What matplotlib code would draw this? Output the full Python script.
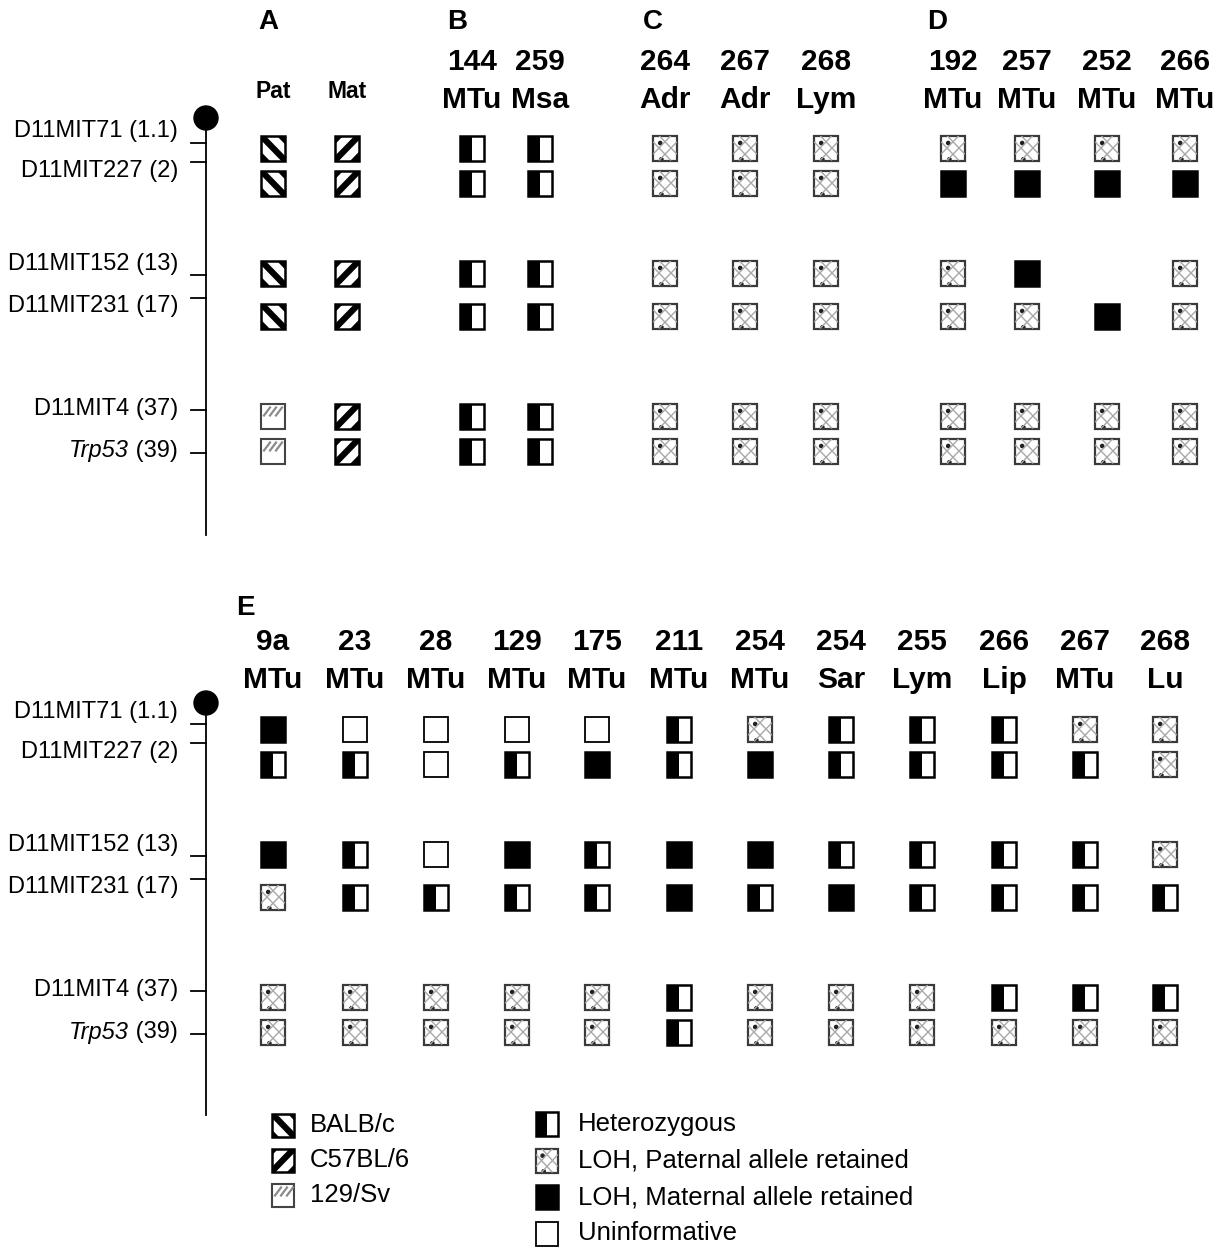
import matplotlib
matplotlib.use("Agg")
import matplotlib.pyplot as plt
from matplotlib.patches import Rectangle, Circle
from matplotlib.lines import Line2D

plt.rcParams['font.family'] = ['Liberation Sans', 'DejaVu Sans']

# ---------------- data ----------------
markers = ["D11MIT71", "D11MIT227", "D11MIT152", "D11MIT231", "D11MIT4", "Trp53"]
marker_cm = ["1.1", "2", "13", "17", "37", "39"]
marker_italic = [False, False, False, False, False, True]

# Genotype codes: B=BALB/c, C=C57BL/6, S=129/Sv, H=heterozygous,
# P=LOH paternal retained, M=LOH maternal retained, U=uninformative, ''=no data
panelA_labels = ["Pat", "Mat"]
panelA_geno = [["B", "B", "B", "B", "S", "S"],
               ["C", "C", "C", "C", "C", "C"]]

panelB_ids = ["144", "259"]
panelB_types = ["MTu", "Msa"]
panelB_geno = [["H"] * 6, ["H"] * 6]

panelC_ids = ["264", "267", "268"]
panelC_types = ["Adr", "Adr", "Lym"]
panelC_geno = [["P"] * 6, ["P"] * 6, ["P"] * 6]

panelD_ids = ["192", "257", "252", "266"]
panelD_types = ["MTu", "MTu", "MTu", "MTu"]
panelD_geno = [["P", "M", "P", "P", "P", "P"],
               ["P", "M", "M", "P", "P", "P"],
               ["P", "M", "", "M", "P", "P"],
               ["P", "M", "P", "P", "P", "P"]]

panelE_ids = ["9a", "23", "28", "129", "175", "211", "254", "254", "255", "266", "267", "268"]
panelE_types = ["MTu", "MTu", "MTu", "MTu", "MTu", "MTu", "MTu", "Sar", "Lym", "Lip", "MTu", "Lu"]
panelE_geno = [["M", "H", "M", "P", "P", "P"],
               ["U", "H", "H", "H", "P", "P"],
               ["U", "U", "U", "H", "P", "P"],
               ["U", "H", "M", "H", "P", "P"],
               ["U", "M", "H", "H", "P", "P"],
               ["H", "H", "M", "M", "H", "H"],
               ["P", "M", "M", "H", "P", "P"],
               ["H", "H", "H", "M", "P", "P"],
               ["H", "H", "H", "H", "P", "P"],
               ["H", "H", "H", "H", "H", "P"],
               ["P", "H", "H", "H", "H", "P"],
               ["P", "P", "P", "H", "H", "P"]]

strain_legend = [("B", "BALB/c"), ("C", "C57BL/6"), ("S", "129/Sv")]
status_legend = [("H", "Heterozygous"), ("P", "LOH, Paternal allele retained"),
                 ("M", "LOH, Maternal allele retained"), ("U", "Uninformative")]

# ---------------- layout ----------------
W, H = 1225, 1248
fig = plt.figure(figsize=(W / 100, H / 100), dpi=100)
ax = fig.add_axes([0, 0, 1, 1])
ax.set_xlim(0, W)
ax.set_ylim(H, 0)
ax.axis("off")

row_y_top = [148, 183, 273, 316, 416, 451]
label_y_top = [131, 171, 264, 306, 409, 451]
tick_y_top = [143, 162, 275, 298, 410, 453]
section_offset = 581


def clipped_line(x0, y0, x1, y1, clip, lw, color):
    ln = Line2D([x0, x1], [y0, y1], lw=lw, color=color, solid_capstyle="butt")
    ax.add_line(ln)
    ln.set_clip_path(clip)


def draw_sym(cx, cy, code, w=24, h=25):
    if not code:
        return
    x0, y0 = cx - w / 2, cy - h / 2
    if code == "H":
        ax.add_patch(Rectangle((x0, y0), w / 2, h, facecolor="black", edgecolor="none"))
        ax.add_patch(Rectangle((x0, y0), w, h, facecolor="none", edgecolor="black", lw=1.8))
    elif code == "M":
        ax.add_patch(Rectangle((x0, y0), w, h, facecolor="black", edgecolor="black", lw=1.8))
    elif code == "U":
        ax.add_patch(Rectangle((x0, y0), w, h, facecolor="white", edgecolor="black", lw=1.3))
    elif code == "P":
        box = Rectangle((x0, y0), w, h, facecolor="white", edgecolor="none")
        ax.add_patch(box)
        for (a, b, c, d) in [(x0, y0 + h * 0.25, x0 + w * 0.75, y0 + h),
                             (x0 + w * 0.25, y0, x0 + w, y0 + h * 0.75),
                             (x0, y0 + h * 0.75, x0 + w * 0.75, y0),
                             (x0 + w * 0.25, y0 + h, x0 + w, y0 + h * 0.25)]:
            clipped_line(a, b, c, d, box, 1.0, "#a8a8a8")
        ax.add_patch(Circle((x0 + w * 0.3, y0 + h * 0.3), 1.6, color="#222222"))
        ax.add_patch(Circle((x0 + w * 0.35, y0 + h * 0.95), 1.6, color="#222222"))
        ax.add_patch(Rectangle((x0, y0), w, h, facecolor="none", edgecolor="#3a3a3a", lw=1.6))
    elif code in ("B", "C"):
        box = Rectangle((x0, y0), w, h, facecolor="white", edgecolor="none")
        ax.add_patch(box)
        ext = 6
        for off in (-20, 0, 20):
            if code == "B":
                clipped_line(x0 - ext + off, y0 - ext, x0 + w + ext + off, y0 + h + ext, box, 4.5, "black")
            else:
                clipped_line(x0 - ext + off, y0 + h + ext, x0 + w + ext + off, y0 - ext, box, 4.5, "black")
        ax.add_patch(Rectangle((x0, y0), w, h, facecolor="none", edgecolor="black", lw=1.8))
    elif code == "S":
        ax.add_patch(Rectangle((x0, y0), w, h, facecolor="white", edgecolor="none"))
        for i in range(3):
            ax.add_line(Line2D([x0 + 3 + i * 6, x0 + 9 + i * 6], [y0 + 12, y0 + 4],
                               lw=1.6, color="#8a8a8a"))
        ax.add_patch(Rectangle((x0, y0), w, h, facecolor="none", edgecolor="#444444", lw=1.5))


def draw_chromosome(offset, top, bottom):
    ax.add_line(Line2D([206, 206], [top + offset, bottom + offset], lw=1.3, color="black"))
    ax.add_patch(Circle((206, top + offset), 12, color="black"))
    for name, cm, it, ly, ty in zip(markers, marker_cm, marker_italic, label_y_top, tick_y_top):
        ax.add_line(Line2D([191, 206], [ty + offset, ty + offset], lw=1.3, color="black"))
        if it:
            t = ax.text(178, ly + offset, f" ({cm})", ha="right", va="center", fontsize=17)
            ax.annotate(name, xy=(0, 0.5), xycoords=t, ha="right", va="center",
                        fontsize=17, fontstyle="italic")
        else:
            ax.text(178, ly + offset, f"{name} ({cm})", ha="right", va="center", fontsize=17)


hdr_fs = 21.5
letter_fs = 20

# ---------- top section ----------
draw_chromosome(0, 118, 535)

# Panel A
ax.text(268, 22, "A", fontsize=letter_fs, fontweight="bold", ha="center", va="center")
for lab, geno, x in zip(panelA_labels, panelA_geno, [273, 347]):
    ax.text(x, 92, lab, fontsize=16.5, fontweight="bold", ha="center", va="center")
    for g, y in zip(geno, row_y_top):
        draw_sym(x, y, g)

# Panels B, C, D
for letter, lx, ids, types, genos, xs in [
        ("B", 457, panelB_ids, panelB_types, panelB_geno, [472, 540]),
        ("C", 653, panelC_ids, panelC_types, panelC_geno, [665, 745, 826]),
        ("D", 937, panelD_ids, panelD_types, panelD_geno, [953, 1027, 1107, 1185])]:
    ax.text(lx, 22, letter, fontsize=letter_fs, fontweight="bold", ha="center", va="center")
    for sid, st, geno, x in zip(ids, types, genos, xs):
        ax.text(x, 62, sid, fontsize=hdr_fs, fontweight="bold", ha="center", va="center")
        ax.text(x, 100, st, fontsize=hdr_fs, fontweight="bold", ha="center", va="center")
        for g, y in zip(geno, row_y_top):
            draw_sym(x, y, g)

# ---------- bottom section ----------
draw_chromosome(section_offset, 122, 534)
ax.text(245, 608, "E", fontsize=letter_fs, fontweight="bold", ha="center", va="center")
xsE = [273, 355, 436, 517, 597, 679, 760, 841, 922, 1004, 1085, 1165]
for sid, st, geno, x in zip(panelE_ids, panelE_types, panelE_geno, xsE):
    ax.text(x, 642, sid, fontsize=hdr_fs, fontweight="bold", ha="center", va="center")
    ax.text(x, 680, st, fontsize=hdr_fs, fontweight="bold", ha="center", va="center")
    for g, y in zip(geno, row_y_top):
        draw_sym(x, y + section_offset, g)

# ---------- legend ----------
for i, (code, lab) in enumerate(strain_legend):
    y = 1125 + i * 35
    draw_sym(283, y, code, w=22, h=23)
    ax.text(310, y, lab, fontsize=18.5, ha="left", va="center")
for i, (code, lab) in enumerate(status_legend):
    y = 1124 + i * 36.5
    draw_sym(547, y, code, w=22, h=24)
    ax.text(578, y, lab, fontsize=18.5, ha="left", va="center")

fig.savefig("out.png", dpi=100)
